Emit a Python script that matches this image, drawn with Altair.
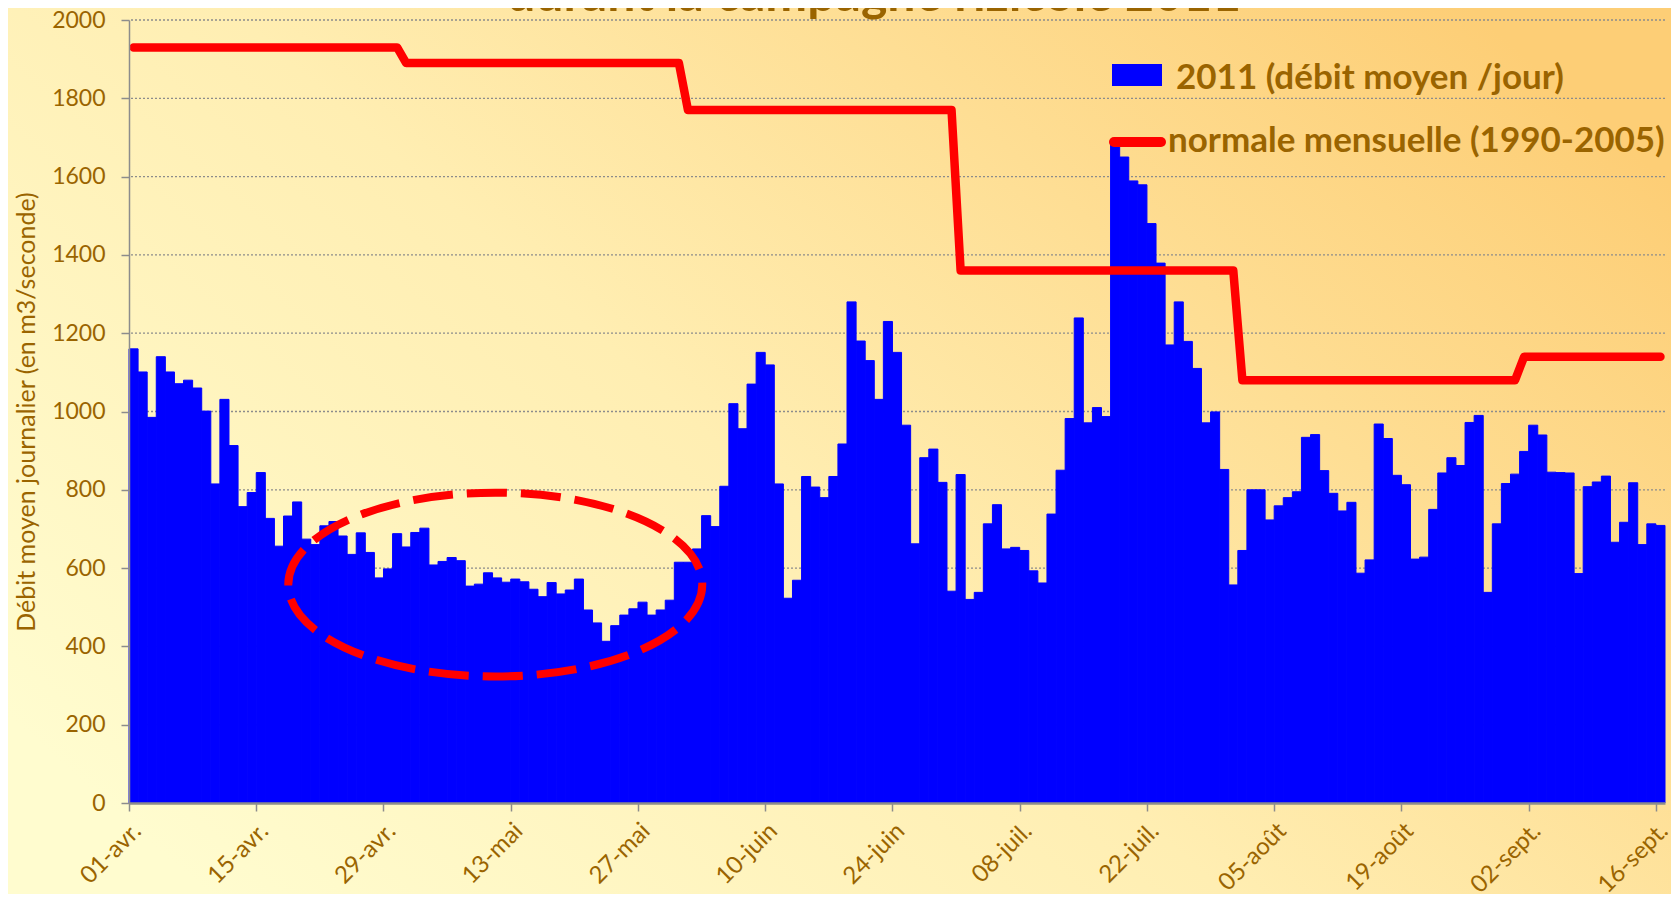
import json
import pandas as pd
import altair as alt

# ---------------- data ----------------
# daily mean flow 2011 (m3/s), 01-avr. .. 16-sept. (169 days)
flow_apr = [1160, 1101, 985, 1140, 1101, 1071, 1080, 1060, 1001, 815,
            1031, 913, 757, 793, 844, 727, 656, 733, 769, 674,
            660, 708, 719, 682, 635, 690, 640, 575, 598, 688]
flow_may = [654, 691, 702, 608, 617, 627, 619, 554, 559, 588,
            575, 564, 572, 565, 546, 527, 563, 534, 544, 572,
            493, 460, 413, 453, 480, 496, 513, 480, 493, 518, 615]
flow_jun = [615, 649, 734, 706, 809, 1020, 956, 1070, 1151, 1119,
            815, 523, 569, 834, 807, 780, 834, 917, 1280, 1180,
            1130, 1031, 1230, 1151, 965, 662, 882, 904, 819, 541]
flow_jul = [839, 520, 538, 713, 762, 649, 653, 645, 593, 562,
            738, 850, 982, 1239, 971, 1010, 987, 1685, 1650, 1589,
            1579, 1480, 1379, 1170, 1280, 1179, 1110, 971, 999, 852, 557]
flow_aug = [645, 800, 800, 723, 759, 780, 795, 934, 941, 849,
            791, 746, 768, 587, 621, 968, 931, 837, 813, 623,
            628, 750, 843, 882, 862, 972, 990, 538, 713, 816, 840]
flow_sep = [898, 965, 940, 845, 844, 843, 586, 808, 820, 835,
            666, 717, 818, 660, 713, 709]

# monthly normal 1990-2005 (m3/s): avril .. septembre
normals = [1930, 1890, 1770, 1360, 1080, 1140]

tick_labels = ["01-avr.", "15-avr.", "29-avr.", "13-mai", "27-mai", "10-juin",
               "24-juin", "08-juil.", "22-juil.", "05-août", "19-août",
               "02-sept.", "16-sept."]
legend_labels = ["2011 (débit moyen /jour)", "normale mensuelle (1990-2005)"]
y_title = "Débit moyen journalier (en m3/seconde)"
title_text = "durant la campagne rizicole 2011"

# annotation ellipse centre (day index, flow)
ellipse_centre = {"ex": [40.3], "ey": [558]}

# ---------------- table ----------------
months = [flow_apr, flow_may, flow_jun, flow_jul, flow_aug, flow_sep]
flow, normal = [], []
for vals, nv in zip(months, normals):
    flow += vals
    normal += [nv] * len(vals)
n = len(flow)
df = pd.DataFrame({
    "d": list(range(n)),
    "d2": [i + 1 for i in range(n)],
    "c": [i + 0.5 for i in range(n)],
    "v": flow,
    "n": normal,
})

W, H = 1536, 783
PAD = {"left": 121, "top": 12, "right": 6, "bottom": 91}
TXT = "#9a6400"
GRID = "#8c8c8c"
FONT = "Lato"

xs = alt.Scale(domain=[0, n], nice=False, zero=False)
ys = alt.Scale(domain=[0, 2000], nice=False)

xaxis = alt.Axis(
    values=[14 * k for k in range(len(tick_labels))],
    labelExpr=json.dumps(tick_labels) + "[round(datum.value / 14)]",
    grid=False, title=None, labelAngle=-45, labelAlign="right",
    labelBaseline="middle", labelFont=FONT, labelFontSize=24, labelColor=TXT,
    labelPadding=16, labelOffset=8, labelOverlap=False, labelBound=False,
    labelFlush=False, tickSize=8, tickColor=GRID, tickWidth=1.5,
    domainColor=GRID, domainWidth=2.5, zindex=1,
)
yaxis = alt.Axis(
    values=list(range(0, 2001, 200)), format="d", grid=False, title=y_title,
    titleFont=FONT, titleFontSize=25, titleFontWeight="normal",
    titleColor=TXT, titleAngle=-90, titleX=-103, titleY=H / 2,
    titleAlign="center", titleBaseline="middle",
    labelFont=FONT, labelFontSize=23, labelColor=TXT, labelPadding=16,
    tickSize=8, tickColor=GRID, tickWidth=1.5, domainColor=GRID,
    domainWidth=1.5, zindex=1,
)

one = pd.DataFrame({"k": [0]})

grad = alt.LinearGradient(
    gradient="linear",
    stops=[alt.GradientStop(color="#fffccf", offset=0),
           alt.GradientStop(color="#ffeeb2", offset=0.45),
           alt.GradientStop(color="#fdce76", offset=1)],
    x1=0, y1=0.8, x2=1, y2=0.2,
)
bg = alt.Chart(one).mark_rect(fill=grad, stroke=None).encode(
    x=alt.value(-PAD["left"]), x2=alt.value(W + PAD["right"]),
    y=alt.value(-PAD["top"]), y2=alt.value(H + PAD["bottom"]),
)

grid = alt.Chart(pd.DataFrame({"g": list(range(200, 2001, 200))})).mark_rule(
    color=GRID, strokeDash=[2, 2], strokeWidth=1.3
).encode(y=alt.Y("g:Q", scale=ys, axis=yaxis))

bars = alt.Chart(df).mark_rect(color="#0000ff", stroke="#0000ff", strokeWidth=1).encode(
    x=alt.X("d:Q", scale=xs, axis=xaxis),
    x2="d2:Q",
    y=alt.Y("v:Q", scale=ys, axis=yaxis),
    y2=alt.datum(0),
)

line = alt.Chart(df).mark_line(
    color="#ff0000", strokeWidth=8.5, strokeCap="round", strokeJoin="round"
).encode(
    x=alt.X("c:Q", scale=xs, axis=xaxis),
    y=alt.Y("n:Q", scale=ys, axis=yaxis),
)

b = 0.444
kb = round(0.5523 * b, 4)
ellipse_path = (f"M1,0C1,{kb} 0.5523,{b} 0,{b}C-0.5523,{b} -1,{kb} -1,0"
                f"C-1,{-kb} -0.5523,{-b} 0,{-b}C0.5523,{-b} 1,{-kb} 1,0Z")
ellipse = alt.Chart(pd.DataFrame(ellipse_centre)).mark_point(
    shape=ellipse_path, filled=False, stroke="#ff0000", strokeWidth=8,
    strokeDash=[40, 14], opacity=1, size=(2 * 207) ** 2,
).encode(
    x=alt.X("ex:Q", scale=xs, axis=xaxis),
    y=alt.Y("ey:Q", scale=ys, axis=yaxis),
)

leg_rect = alt.Chart(one).mark_rect(color="#0000ff").encode(
    x=alt.value(983), x2=alt.value(1033), y=alt.value(44), y2=alt.value(66)
)
leg_rule = alt.Chart(one).mark_rule(
    color="#ff0000", strokeWidth=10, strokeCap="round"
).encode(x=alt.value(985), x2=alt.value(1032), y=alt.value(122))
leg_t1 = alt.Chart(pd.DataFrame({"t": [legend_labels[0]]})).mark_text(
    align="left", baseline="middle", font=FONT, fontWeight="bold",
    fontSize=35, color=TXT
).encode(x=alt.value(1047), y=alt.value(58), text="t:N")
leg_t2 = alt.Chart(pd.DataFrame({"t": [legend_labels[1]]})).mark_text(
    align="left", baseline="middle", font=FONT, fontWeight="bold",
    fontSize=35, color=TXT
).encode(x=alt.value(1039), y=alt.value(121), text="t:N")

title = alt.Chart(pd.DataFrame({"t": [title_text]})).mark_text(
    align="center", baseline="alphabetic", font=FONT, fontWeight="bold",
    fontSize=50, color=TXT
).encode(x=alt.value(745), y=alt.value(-9), text="t:N")

chart = alt.layer(
    bg, grid, bars, line, ellipse, leg_rect, leg_rule, leg_t1, leg_t2, title
).properties(
    width=W, height=H,
    autosize=alt.AutoSizeParams(type="none"),
    padding=PAD,
).configure_view(stroke=None)

chart.save("out.html", embed_options={"renderer": "svg", "actions": False})
